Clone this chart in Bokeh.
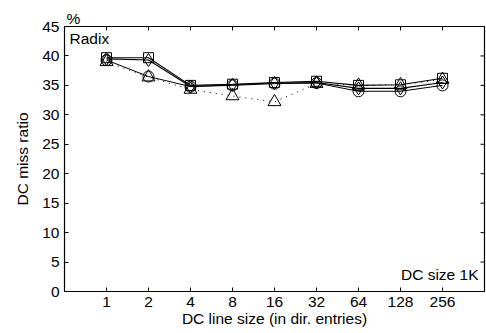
import math
from bokeh.plotting import figure
from bokeh.models import Range1d, FixedTicker, Label
from bokeh.embed import file_html
from bokeh.resources import INLINE

# Directory-cache line sizes (x categories) and miss ratios (%) per configuration
line_sizes = ["1", "2", "4", "8", "16", "32", "64", "128", "256"]
miss_square = [39.7, 39.7, 35.0, 35.2, 35.5, 35.7, 35.0, 35.1, 36.2]
miss_diamond = [39.5, 39.3, 34.8, 35.1, 35.4, 35.5, 34.5, 34.5, 35.5]
miss_circle = [39.3, 36.5, 34.8, 35.0, 35.3, 35.4, 34.0, 34.0, 35.0]
miss_triangle = [39.0, 36.4, 34.3, 33.2, 32.2, 35.3, 35.0, 35.1, 36.0]
y_ticks = [0, 5, 10, 15, 20, 25, 30, 35, 40, 45]

FONT = "Liberation Sans"
FS = "15.5px"

xs = list(range(1, len(line_sizes) + 1))
x_max = len(line_sizes) + 1
y_max = y_ticks[-1]

p = figure(width=486, height=333, output_backend="svg", toolbar_location=None,
           x_range=Range1d(0, x_max), y_range=Range1d(0, y_max),
           min_border_left=64, min_border_right=2, min_border_top=26,
           min_border_bottom=42, x_axis_label="DC line size (in dir. entries)",
           y_axis_label="DC miss ratio")
p.grid.visible = False
p.outline_line_color = "black"
p.outline_line_width = 1.2
p.background_fill_color = "white"
p.border_fill_color = "white"

p.title.text = "%"
p.title.align = "left"
p.title.text_font = FONT
p.title.text_font_size = FS
p.title.text_font_style = "normal"
p.title.text_color = "black"
p.title.standoff = 0
p.title.offset = 2

p.xaxis.ticker = FixedTicker(ticks=xs)
p.xaxis.major_label_overrides = {x: lab for x, lab in zip(xs, line_sizes)}
p.yaxis.ticker = FixedTicker(ticks=y_ticks)
for ax in (p.xaxis[0], p.yaxis[0]):
    ax.major_tick_in = 4
    ax.major_tick_out = 0
    ax.minor_tick_line_color = None
    ax.axis_line_color = "black"
    ax.major_tick_line_color = "black"
    ax.major_label_text_font = FONT
    ax.major_label_text_font_size = FS
    ax.major_label_text_color = "black"
    ax.axis_label_text_font = FONT
    ax.axis_label_text_font_size = FS
    ax.axis_label_text_font_style = "normal"
    ax.axis_label_text_color = "black"
p.yaxis.major_label_standoff = 5
p.yaxis.axis_label_standoff = 8
p.xaxis.major_label_standoff = 5
p.xaxis.axis_label_standoff = 0

# mirrored inward ticks on the top and right edges
p.ray(x=xs, y=[y_max] * len(xs), length=4, length_units="screen",
      angle=-math.pi / 2, line_color="black", line_width=1)
p.ray(x=[x_max] * len(y_ticks), y=y_ticks, length=4, length_units="screen",
      angle=math.pi, line_color="black", line_width=1)

p.line(xs, miss_triangle, line_color="black", line_width=1, line_dash="1 5")
p.line(xs, miss_circle, line_color="black", line_width=1)
p.line(xs, miss_diamond, line_color="black", line_width=1.1)
p.line(xs, miss_square, line_color="black", line_width=1.1)

p.scatter(xs, miss_square, marker="square", size=10, fill_color=None, line_color="black")
p.scatter(xs, miss_diamond, marker="diamond", size=13, fill_color=None, line_color="black")
p.scatter(xs, miss_circle, marker="circle", size=11, fill_color=None, line_color="black")
p.scatter(xs, miss_triangle, marker="triangle", size=13, fill_color=None, line_color="black")

frame_h = 333 - 26 - 42
frame_w = 486 - 64 - 2
p.add_layout(Label(x=5, y=frame_h - 12, x_units="screen", y_units="screen",
                   text="Radix", text_font=FONT, text_font_size=FS,
                   text_color="black", text_baseline="alphabetic"))
p.add_layout(Label(x=frame_w - 6, y=17, x_units="screen", y_units="screen",
                   text="DC size 1K", text_font=FONT, text_font_size=FS,
                   text_color="black", text_align="right", text_baseline="alphabetic"))

open("out.html", "w").write(file_html(p, INLINE))
